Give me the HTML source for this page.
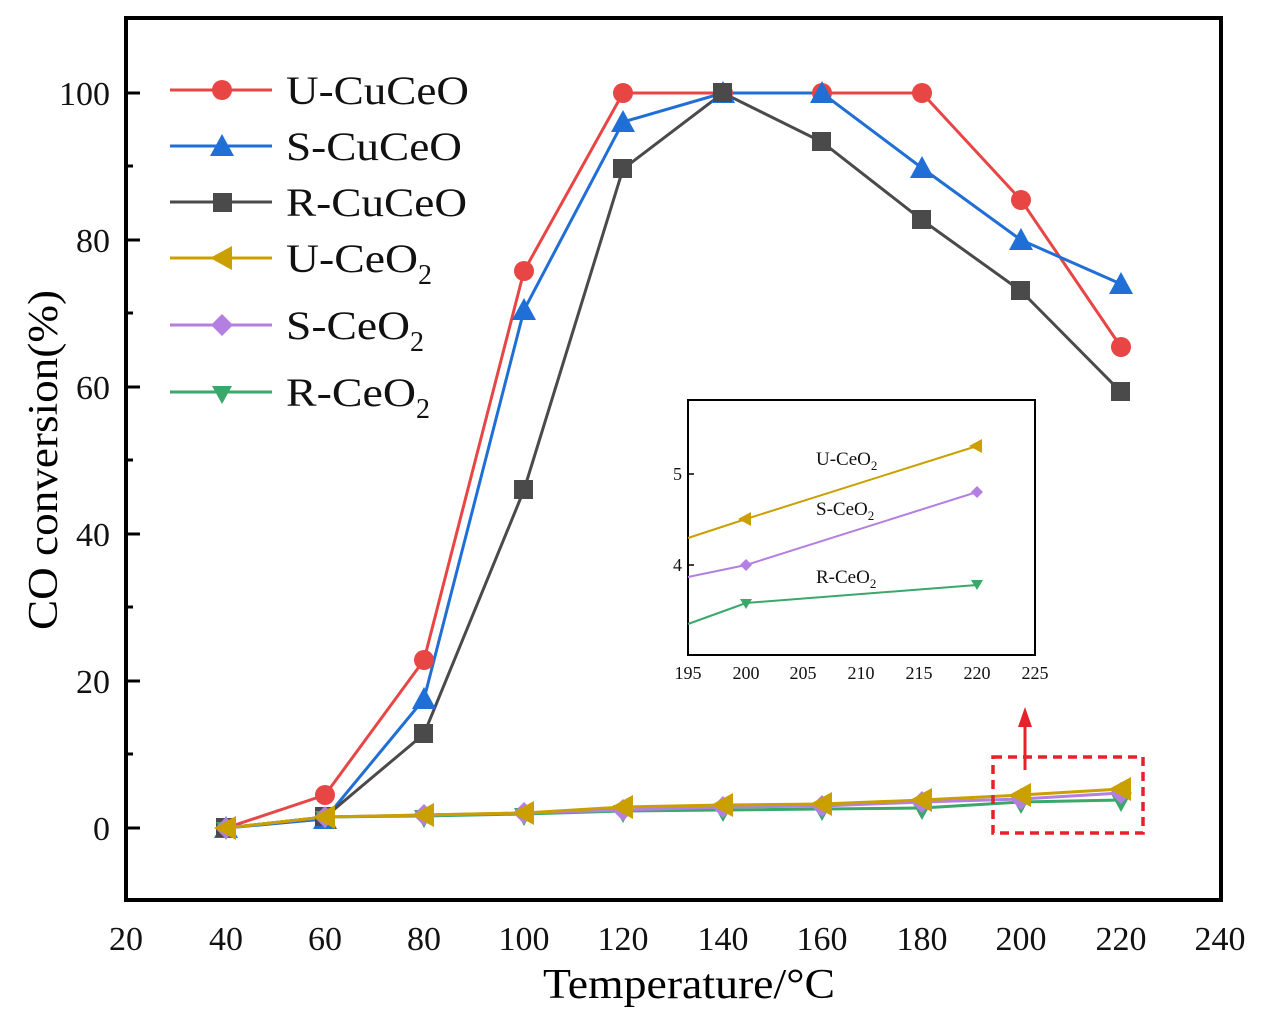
<!DOCTYPE html>
<html><head><meta charset="utf-8"><style>body{margin:0;background:#fff}svg{display:block}</style></head><body>
<svg width="1268" height="1018" viewBox="0 0 1268 1018" xmlns="http://www.w3.org/2000/svg" font-family="Liberation Serif, serif">
<rect width="1268" height="1018" fill="#fff"/>
<rect x="126" y="18" width="1095" height="882" fill="none" stroke="#000" stroke-width="4"/>
<g stroke="#000" stroke-width="3">
<line x1="126" y1="828" x2="140" y2="828"/><line x1="126" y1="681" x2="140" y2="681"/><line x1="126" y1="534" x2="140" y2="534"/><line x1="126" y1="387" x2="140" y2="387"/><line x1="126" y1="240" x2="140" y2="240"/><line x1="126" y1="93" x2="140" y2="93"/>
<line x1="126" y1="754" x2="133" y2="754"/><line x1="126" y1="607" x2="133" y2="607"/><line x1="126" y1="460" x2="133" y2="460"/><line x1="126" y1="313" x2="133" y2="313"/><line x1="126" y1="166" x2="133" y2="166"/>
</g>
<g font-size="34" text-anchor="end" fill="#111">
<text x="110" y="840">0</text><text x="110" y="693">20</text><text x="110" y="546">40</text><text x="110" y="399">60</text><text x="110" y="252">80</text><text x="110" y="105">100</text>
</g>
<g font-size="34" text-anchor="middle" fill="#111">
<text x="126" y="950">20</text><text x="226" y="950">40</text><text x="325" y="950">60</text><text x="424" y="950">80</text><text x="524" y="950">100</text><text x="623" y="950">120</text><text x="723" y="950">140</text><text x="822" y="950">160</text><text x="922" y="950">180</text><text x="1021" y="950">200</text><text x="1121" y="950">220</text><text x="1220" y="950">240</text>
</g>
<text x="543" y="998" font-size="42" textLength="292" lengthAdjust="spacingAndGlyphs">Temperature/°C</text>
<text transform="translate(57,630) rotate(-90)" font-size="42" textLength="340" lengthAdjust="spacingAndGlyphs">CO conversion(%)</text>

<g fill="none" stroke-width="3">
<polyline stroke="#e84545" points="226,828 325,795 424,660 524,271 623,93 723,93 822,93 922,93 1021,200 1121,347"/>
<polyline stroke="#1f6fd6" points="226,828 325,819 424,699 524,310 623,122 723,93 822,93 922,168 1021,240 1121,284"/>
<polyline stroke="#4a4a4a" points="226,828 325,817 424,734 524,490 623,169 723,93 822,142 922,220 1021,291 1121,392"/>
<polyline stroke="#3aa86a" points="226,828 325,817 424,816 524,814 623,811 723,810 822,809 922,808 1021,802 1121,800"/>
<polyline stroke="#b37fe0" points="226,828 325,817 424,815 524,813 623,810 723,807 822,806 922,802 1021,799 1121,793"/>
<polyline stroke="#c9a000" points="226,828 325,817 424,815 524,813 623,807 723,805 822,804 922,800 1021,795 1121,789"/>
</g>
<g fill="#e84545"><circle cx="226" cy="828" r="10"/><circle cx="325" cy="795" r="10"/><circle cx="424" cy="660" r="10"/><circle cx="524" cy="271" r="10"/><circle cx="623" cy="93" r="10"/><circle cx="723" cy="93" r="10"/><circle cx="822" cy="93" r="10"/><circle cx="922" cy="93" r="10"/><circle cx="1021" cy="200" r="10"/><circle cx="1121" cy="347" r="10"/></g>
<g fill="#1f6fd6">
<polygon points="226,816 238,838 214,838"/><polygon points="325,807 337,829 313,829"/><polygon points="424,687 436,709 412,709"/><polygon points="524,298 536,320 512,320"/><polygon points="623,110 635,132 611,132"/><polygon points="723,81 735,103 711,103"/><polygon points="822,81 834,103 810,103"/><polygon points="922,156 934,178 910,178"/><polygon points="1021,228 1033,250 1009,250"/><polygon points="1121,272 1133,294 1109,294"/></g>
<g fill="#4a4a4a"><rect x="216" y="818" width="19" height="19"/><rect x="315" y="807" width="19" height="19"/><rect x="414" y="724" width="19" height="19"/><rect x="514" y="480" width="19" height="19"/><rect x="613" y="159" width="19" height="19"/><rect x="713" y="83" width="19" height="19"/><rect x="812" y="132" width="19" height="19"/><rect x="912" y="210" width="19" height="19"/><rect x="1011" y="281" width="19" height="19"/><rect x="1111" y="382" width="19" height="19"/></g>
<g fill="#3aa86a"><polygon points="216,822 236,822 226,840"/><polygon points="315,811 335,811 325,829"/><polygon points="414,810 434,810 424,828"/><polygon points="514,808 534,808 524,826"/><polygon points="613,805 633,805 623,823"/><polygon points="713,804 733,804 723,822"/><polygon points="812,803 832,803 822,821"/><polygon points="912,802 932,802 922,820"/><polygon points="1011,796 1031,796 1021,814"/><polygon points="1111,794 1131,794 1121,812"/></g>
<g fill="#b37fe0"><polygon points="226,817 237,828 226,839 215,828"/><polygon points="325,806 336,817 325,828 314,817"/><polygon points="424,804 435,815 424,826 413,815"/><polygon points="524,802 535,813 524,824 513,813"/><polygon points="623,799 634,810 623,821 612,810"/><polygon points="723,796 734,807 723,818 712,807"/><polygon points="822,795 833,806 822,817 811,806"/><polygon points="922,791 933,802 922,813 911,802"/><polygon points="1021,788 1032,799 1021,810 1010,799"/><polygon points="1121,782 1132,793 1121,804 1110,793"/></g>
<g fill="#c9a000"><polygon points="214,828 236,816 236,840"/><polygon points="313,817 335,805 335,829"/><polygon points="412,815 434,803 434,827"/><polygon points="512,813 534,801 534,825"/><polygon points="611,807 633,795 633,819"/><polygon points="711,805 733,793 733,817"/><polygon points="810,804 832,792 832,816"/><polygon points="910,800 932,788 932,812"/><polygon points="1009,795 1031,783 1031,807"/><polygon points="1109,789 1131,777 1131,801"/></g>

<g stroke-width="3">
<line x1="170" y1="90" x2="272" y2="90" stroke="#e84545"/><circle cx="222" cy="90" r="10" fill="#e84545"/>
<line x1="170" y1="146" x2="272" y2="146" stroke="#1f6fd6"/><polygon points="222,134 234,156 210,156" fill="#1f6fd6"/>
<line x1="170" y1="202" x2="272" y2="202" stroke="#4a4a4a"/><rect x="213" y="193" width="19" height="19" fill="#4a4a4a"/>
<line x1="170" y1="258" x2="272" y2="258" stroke="#c9a000"/><polygon points="210,258 232,246 232,270" fill="#c9a000"/>
<line x1="170" y1="325" x2="272" y2="325" stroke="#b37fe0"/><polygon points="222,314 233,325 222,336 211,325" fill="#b37fe0"/>
<line x1="170" y1="392" x2="272" y2="392" stroke="#3aa86a"/><polygon points="212,386 232,386 222,404" fill="#3aa86a"/>
</g>
<g font-size="40" fill="#111">
<text x="286" y="104" textLength="183" lengthAdjust="spacingAndGlyphs">U-CuCeO</text><text x="286" y="160" textLength="176" lengthAdjust="spacingAndGlyphs">S-CuCeO</text><text x="286" y="216" textLength="181" lengthAdjust="spacingAndGlyphs">R-CuCeO</text>
<text x="286" y="272" textLength="132" lengthAdjust="spacingAndGlyphs">U-CeO</text><text x="418" y="284" font-size="28">2</text>
<text x="286" y="339" textLength="124" lengthAdjust="spacingAndGlyphs">S-CeO</text><text x="410" y="351" font-size="28">2</text>
<text x="286" y="406" textLength="130" lengthAdjust="spacingAndGlyphs">R-CeO</text><text x="416" y="418" font-size="28">2</text>
</g>

<rect x="688" y="400" width="347" height="255" fill="#fff" stroke="#000" stroke-width="2"/>
<g stroke="#000" stroke-width="1.5"><line x1="688" y1="474" x2="694" y2="474"/><line x1="688" y1="565" x2="694" y2="565"/></g>
<g font-size="18" fill="#111" text-anchor="end"><text x="682" y="480">5</text><text x="682" y="571">4</text></g>
<g font-size="18" fill="#111" text-anchor="middle"><text x="688" y="679">195</text><text x="746" y="679">200</text><text x="803" y="679">205</text><text x="861" y="679">210</text><text x="919" y="679">215</text><text x="977" y="679">220</text><text x="1035" y="679">225</text></g>
<g stroke-width="2" fill="none">
<polyline stroke="#c9a000" points="688,538 746,519 977,446"/>
<polyline stroke="#b37fe0" points="688,577 746,565 977,492"/>
<polyline stroke="#3aa86a" points="688,624 746,603 977,585"/>
</g>
<polygon points="738,519 751,512 751,526" fill="#c9a000"/><polygon points="969,446 982,439 982,453" fill="#c9a000"/>
<polygon points="746,559 752,565 746,571 740,565" fill="#b37fe0"/><polygon points="977,486 983,492 977,498 971,492" fill="#b37fe0"/>
<polygon points="740,599 752,599 746,609" fill="#3aa86a"/><polygon points="971,580 983,580 977,590" fill="#3aa86a"/>
<g font-size="19" fill="#111">
<text x="816" y="465">U-CeO<tspan font-size="13" dy="5">2</tspan></text>
<text x="816" y="515">S-CeO<tspan font-size="13" dy="5">2</tspan></text>
<text x="816" y="583">R-CeO<tspan font-size="13" dy="5">2</tspan></text>
</g>
<rect x="993" y="757" width="150" height="76" fill="none" stroke="#e8202a" stroke-width="3.5" stroke-dasharray="9,6"/>
<line x1="1025" y1="770" x2="1025" y2="725" stroke="#e8202a" stroke-width="3"/>
<polygon points="1025,707 1032,727 1018,727" fill="#e8202a"/>
</svg>
</body></html>
